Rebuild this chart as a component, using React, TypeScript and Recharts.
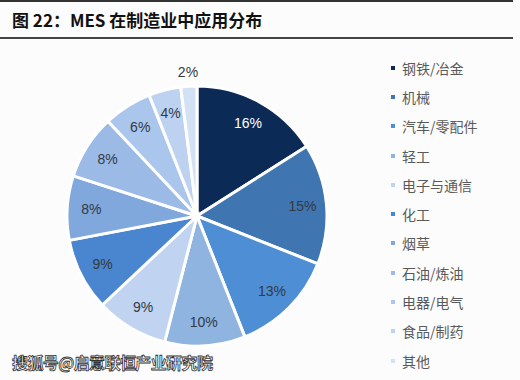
import React from 'react'
import { PieChart, Pie, Cell, Legend } from 'recharts'

const industries = ['钢铁/冶金', '机械', '汽车/零配件', '轻工', '电子与通信', '化工', '烟草', '石油/炼油', '电器/电气', '食品/制药', '其他']
const shares = [16, 15, 13, 10, 9, 9, 8, 8, 6, 4, 2]
const colors = ['#0c2a56', '#3f75b0', '#4d8ed4', '#8fb4e0', '#c0d3f0', '#4a85cf', '#80a8dc', '#9bbbe6', '#aac6ec', '#bdd2f0', '#d3e1f5']

const data = industries.map((name, i) => ({ name, value: shares[i] }))

const RADIAN = Math.PI / 180

const renderLabel = (props: any) => {
    const { cx, cy, midAngle, outerRadius, value, index } = props
    const r = value < 3 ? outerRadius + 14 : outerRadius * 0.815
    const x = cx + r * Math.cos(-midAngle * RADIAN)
    const y = cy + r * Math.sin(-midAngle * RADIAN)
    return (
        <text x={x} y={y} textAnchor='middle' dominantBaseline='central'
            fill={index === 0 ? '#ffffff' : '#333a44'} fontSize={14} fontFamily='Liberation Sans, Arial, sans-serif'>
            {value}%
        </text>
    )
}

const renderLegend = () => (
    <div style={{ fontFamily: '"Noto Sans CJK SC", sans-serif', fontSize: 14, color: '#5a5a5a' }}>
        {industries.map((name, i) => (
            <div key={name} style={{ display: 'flex', alignItems: 'center', height: 29.3 }}>
                <span style={{ width: 4, height: 4, background: colors[i], marginRight: 7, display: 'inline-block' }} />
                <span>{name}</span>
            </div>
        ))}
    </div>
)

export default function App() {
    return (
        <div style={{ position: 'absolute', left: 0, top: 0, width: 520, height: 380, background: '#fcfcfd', overflow: 'hidden' }}>
            <div style={{ position: 'absolute', left: 0, top: 0, width: 513, height: 2, background: '#333' }} />
            <div style={{ position: 'absolute', left: 12, top: 8, fontFamily: '"Noto Sans CJK SC", sans-serif', fontWeight: 700, fontSize: 17, color: '#111', lineHeight: '24px' }}>
                图 22：MES 在制造业中应用分布
            </div>
            <div style={{ position: 'absolute', left: 0, top: 37, width: 513, height: 2, background: '#444' }} />
            <div style={{ position: 'absolute', left: 0, top: 0 }}>
                <PieChart width={520} height={380} margin={{ top: 0, right: 0, bottom: 0, left: 0 }}>
                    <Pie data={data} dataKey='value' nameKey='name' cx={197} cy={216} outerRadius={130}
                        startAngle={90} endAngle={-270} stroke='#ffffff' strokeWidth={3}
                        label={renderLabel} labelLine={false} isAnimationActive={false}>
                        {data.map((d, i) => <Cell key={d.name} fill={colors[i]} />)}
                    </Pie>
                    <Legend layout='vertical' verticalAlign='top' align='right' content={renderLegend}
                        wrapperStyle={{ left: 391, top: 53, width: 125 }} />
                </PieChart>
            </div>
            <div style={{ position: 'absolute', left: 12, top: 350, fontFamily: '"Noto Sans CJK SC", sans-serif', fontWeight: 700, fontSize: 16, color: '#fff', WebkitTextStroke: '0.8px #333', letterSpacing: -0.6 }}>
                搜狐号@启意联恒产业研究院
            </div>
        </div>
    )
}
